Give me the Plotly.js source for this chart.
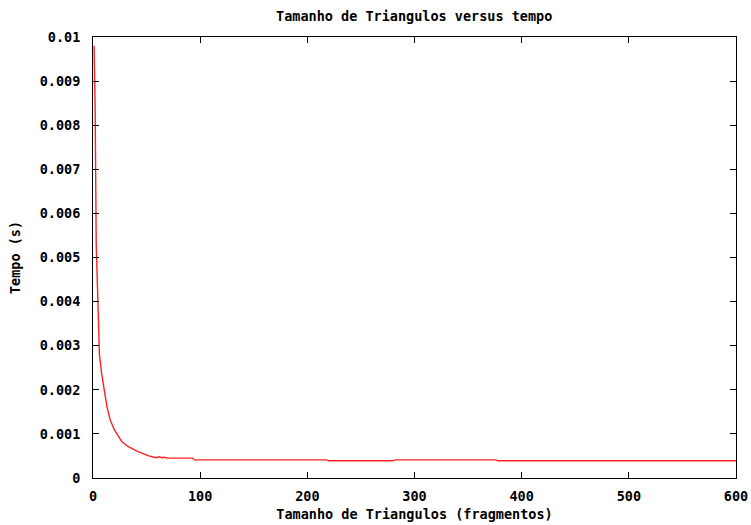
<!DOCTYPE html>
<html>
<head>
<meta charset="utf-8">
<script src="https://cdn.plot.ly/plotly-3.0.1.min.js"></script>
<style>html,body{margin:0;padding:0;background:#fff;}#chart{width:751px;height:525px;}</style>
</head>
<body>
<div id="chart"></div>
<script>
const sizes = [1, 2, 3, 4, 5, 6, 8, 13, 16, 20, 27, 33, 42, 52, 59, 62, 64, 66, 70, 93, 95, 218, 220, 280, 282, 376, 378, 600];
const times = [0.0098, 0.0084, 0.0053, 0.0043, 0.0033, 0.0028, 0.00238, 0.00162, 0.00132, 0.00109, 0.00082, 0.00071, 0.00060, 0.00050, 0.00046, 0.00048, 0.00046, 0.00047, 0.00045, 0.00045, 0.00041, 0.00041, 0.00039, 0.00039, 0.00041, 0.00041, 0.00039, 0.00039];
const xTicks = [0, 100, 200, 300, 400, 500, 600];
const yTicks = [0, 0.001, 0.002, 0.003, 0.004, 0.005, 0.006, 0.007, 0.008, 0.009, 0.01];
const yTickText = ["0", "0.001", "0.002", "0.003", "0.004", "0.005", "0.006", "0.007", "0.008", "0.009", "0.01"];

const font = {family: "DejaVu Sans Mono", size: 13.5, color: "#000"};

const trace = {
  x: sizes, y: times, type: "scatter", mode: "lines",
  line: {color: "#ff2020", width: 1.4},
  hoverinfo: "x+y"
};

const axisCommon = {
  showgrid: false, zeroline: false, showline: true, linecolor: "#000", linewidth: 1,
  mirror: "ticks", ticks: "inside", ticklen: 6, tickcolor: "#000", tickwidth: 1,
  tickfont: font
};

const layout = {
  width: 751, height: 525,
  margin: {l: 93, r: 15, t: 37, b: 47},
  paper_bgcolor: "#fff", plot_bgcolor: "#fff",
  showlegend: false,
  font: font,
  title: {text: "<b>Tamanho de Triangulos versus tempo</b>", font: font, x: 0.5515, xanchor: "center", y: 0.969, yanchor: "middle"},
  xaxis: Object.assign({}, axisCommon, {
    range: [0, 600], tickvals: xTicks, ticktext: xTicks.map(v => "<b>" + v + "</b>"),
    ticklabelstandoff: 6,
    title: {text: "<b>Tamanho de Triangulos (fragmentos)</b>", font: font, standoff: 6}
  }),
  yaxis: Object.assign({}, axisCommon, {
    range: [0, 0.01], tickvals: yTicks, ticktext: yTickText.map(t => "<b>" + t + "</b>"),
    ticklabelstandoff: 9,
    title: {text: "<b>Tempo (s)</b>", font: font, standoff: 15}
  })
};

Plotly.newPlot("chart", [trace], layout, {displayModeBar: false, staticPlot: true});
</script>
</body>
</html>
